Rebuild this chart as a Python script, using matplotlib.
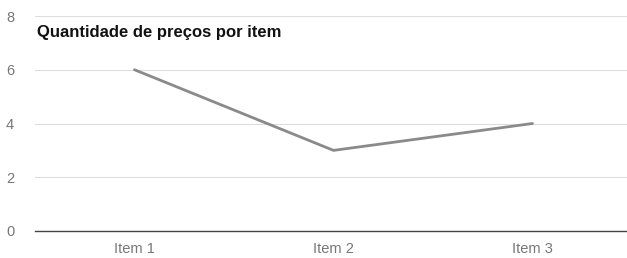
import matplotlib
matplotlib.use("Agg")
import matplotlib.pyplot as plt

plt.rcParams["font.family"] = ["Liberation Sans", "DejaVu Sans"]

categories = ["Item 1", "Item 2", "Item 3"]
values = [6, 3, 4]
yticks = [0, 2, 4, 6, 8]
title = "Quantidade de preços por item"

W, H = 627, 258
fig = plt.figure(figsize=(W / 100, H / 100), dpi=100)
left, right = 35 / W, 1.0
bottom, top = (H - 231) / H, (H - 16) / H
ax = fig.add_axes([left, bottom, right - left, top - bottom])

x = list(range(len(categories)))
ax.plot(x, values, color="#8a8a8a", lw=2, solid_capstyle="round", zorder=3)
ax.set_xlim(-0.5, -0.5 + (W - 35) / 199)
ax.set_ylim(0, 8)
ax.set_yticks(yticks)
ax.set_xticks(x)
ax.set_xticklabels(categories)
ax.grid(axis="y", color="#dddddd", lw=0.8)
ax.set_axisbelow(True)
for s in ["top", "right", "left"]:
    ax.spines[s].set_visible(False)
ax.spines["bottom"].set_color("#444444")
ax.spines["bottom"].set_linewidth(1.0)
ax.tick_params(axis="both", length=0, colors="#777777", labelsize=10.5)
ax.tick_params(axis="y", pad=15)
ax.tick_params(axis="x", pad=8)
fig.text(37 / W, 1 - 33 / H, title, fontsize=12, fontweight="bold", color="#111111", va="center", ha="left")
fig.savefig("out.png", dpi=100, facecolor="white")
